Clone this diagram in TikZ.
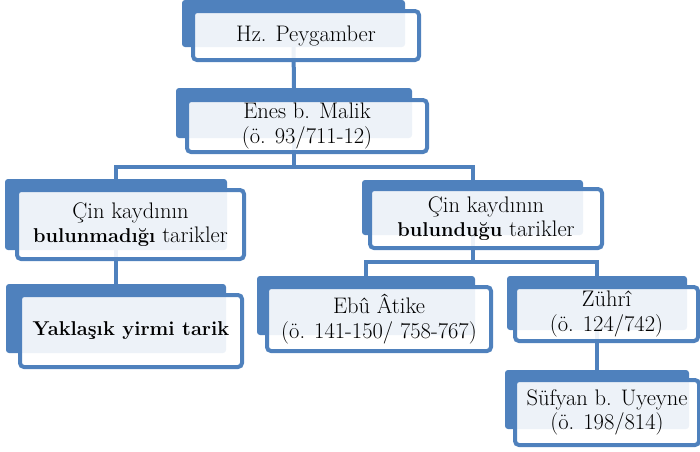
\documentclass[tikz,border=0pt]{standalone}
\usepackage{tikz}

\definecolor{ofisblue}{RGB}{79,129,189}
\newcommand{\kalin}[1]{{\fontsize{20}{24.5}\selectfont\textbf{#1}}}

\begin{document}
\begin{tikzpicture}[x=1pt,y=-1pt,
  arka/.style={rectangle,fill=ofisblue,rounded corners=3pt,inner sep=0pt,outer sep=0pt},
  kutu/.style={rectangle,draw=ofisblue,line width=4pt,fill=white,fill opacity=0.9,text opacity=1,
    rounded corners=4pt,inner sep=0pt,outer sep=0pt,align=center,font=\fontsize{22.5}{24.5}\selectfont},
  bag/.style={draw=ofisblue,line width=4pt}]
\useasboundingbox (0,0) rectangle (700,451);
\node[arka,minimum width=223pt,minimum height=47pt] (hza) at (293.5,23.5) {};
\node[arka,minimum width=236pt,minimum height=50pt] (enesa) at (294,113) {};
\node[arka,minimum width=222pt,minimum height=71pt] (yoka) at (116,214.5) {};
\node[arka,minimum width=220pt,minimum height=69pt] (yirmia) at (116,318.5) {};
\node[arka,minimum width=221pt,minimum height=55pt] (vara) at (472.5,207.5) {};
\node[arka,minimum width=218pt,minimum height=59pt] (ebua) at (366,305.5) {};
\node[arka,minimum width=180pt,minimum height=54pt] (zuhria) at (597,303) {};
\node[arka,minimum width=184pt,minimum height=59pt] (sufyana) at (597,399.5) {};
% the connectors run from the dark back boxes
\coordinate (ust) at (294,167);
\coordinate (orta) at (472.5,262);
\draw[bag] (hza.south) -- (enesa.north);
\draw[bag] (enesa.south) -- (ust) -| (yoka.north);
\draw[bag] (ust) -| (vara.north);
\draw[bag] (yoka.south) -- (yirmia.north);
\draw[bag] (vara.south) -- (orta) -| (ebua.north);
\draw[bag] (orta) -| (zuhria.north);
\draw[bag] (zuhria.south) -- (sufyana.north);
\node[kutu,minimum width=226pt,minimum height=49pt] (hz) at (306,35.5) {Hz. Peygamber};
\node[kutu,minimum width=240pt,minimum height=52pt] (enes) at (307,126) {Enes b. Malik\\(ö. 93/711-12)};
\node[kutu,minimum width=227pt,minimum height=69pt] (yok) at (130.5,224.5) {Çin kaydının\\\kalin{bulunmadığı} tarikler};
\node[kutu,minimum width=222pt,minimum height=72pt] (yirmi) at (131,331) {\kalin{Yaklaşık yirmi tarik}};
\node[kutu,minimum width=232pt,minimum height=59pt] (var) at (486,218.5) {Çin kaydının\\\kalin{bulunduğu} tarikler};
\node[kutu,minimum width=224pt,minimum height=64pt] (ebu) at (379,319) {Ebû Âtike\\(ö. 141-150/ 758-767)};
\node[kutu,minimum width=183pt,minimum height=54pt] (zuhri) at (606.5,314) {Zührî\\(ö. 124/742)};
\node[kutu,minimum width=184pt,minimum height=65pt] (sufyan) at (607,412.5) {Süfyan b. Uyeyne\\(ö. 198/814)};
\end{tikzpicture}
\end{document}
